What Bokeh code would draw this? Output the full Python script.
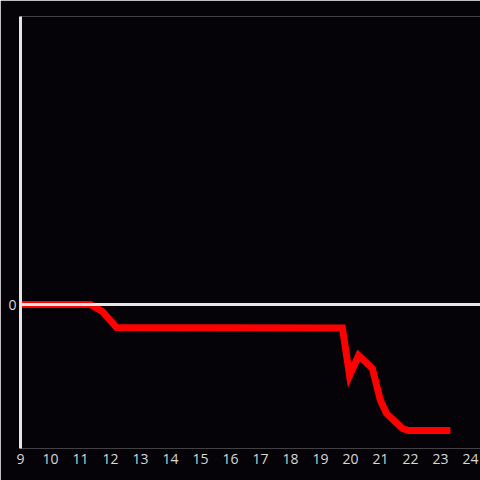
from bokeh.plotting import figure
from bokeh.models import Range1d, FixedTicker, Span
from bokeh.embed import file_html
from bokeh.resources import INLINE

hours = [9.0, 11.33, 11.73, 12.2, 19.73, 19.97, 20.27, 20.73, 21.0, 21.2, 21.73, 21.93, 23.33]
values = [0.0, 0.0, -0.7, -2.3, -2.35, -7.1, -5.1, -6.4, -9.6, -10.9, -12.4, -12.6, -12.6]
x_ticks = list(range(9, 25))
y_ticks = [0]

BG = "#050307"

p = figure(width=480, height=480, output_backend="svg", toolbar_location=None,
           x_range=Range1d(9, 9 + 460 / 30), y_range=Range1d(-14.4, 28.8),
           min_border_left=20, min_border_right=0, min_border_top=16, min_border_bottom=32,
           background_fill_color=BG, border_fill_color=BG, outline_line_color=None)

p.xgrid.visible = False
p.ygrid.visible = False

p.add_layout(Span(location=0, dimension="width", line_color="#e6e6e6", line_width=3))

p.line(hours, values, line_color="#ff0000", line_width=7, line_join="miter")

p.xaxis.ticker = FixedTicker(ticks=x_ticks)
p.xaxis.axis_line_color = None
p.xaxis.major_tick_line_color = None
p.xaxis.minor_tick_line_color = None
p.xaxis.major_tick_out = 0
p.xaxis.major_tick_in = 0
p.xaxis.major_label_text_color = "#d8d8d8"
p.xaxis.major_label_text_font = "Open Sans"
p.xaxis.major_label_text_font_size = "14px"
p.xaxis.major_label_standoff = 5

p.yaxis.ticker = FixedTicker(ticks=y_ticks)
p.yaxis.axis_line_color = "#e6e6e6"
p.yaxis.axis_line_width = 3
p.yaxis.major_tick_line_color = None
p.yaxis.minor_tick_line_color = None
p.yaxis.major_tick_out = 0
p.yaxis.major_tick_in = 0
p.yaxis.major_label_text_color = "#d8d8d8"
p.yaxis.major_label_text_font = "Open Sans"
p.yaxis.major_label_text_font_size = "14px"
p.yaxis.major_label_standoff = 4

open("out.html", "w").write(file_html(p, INLINE))
